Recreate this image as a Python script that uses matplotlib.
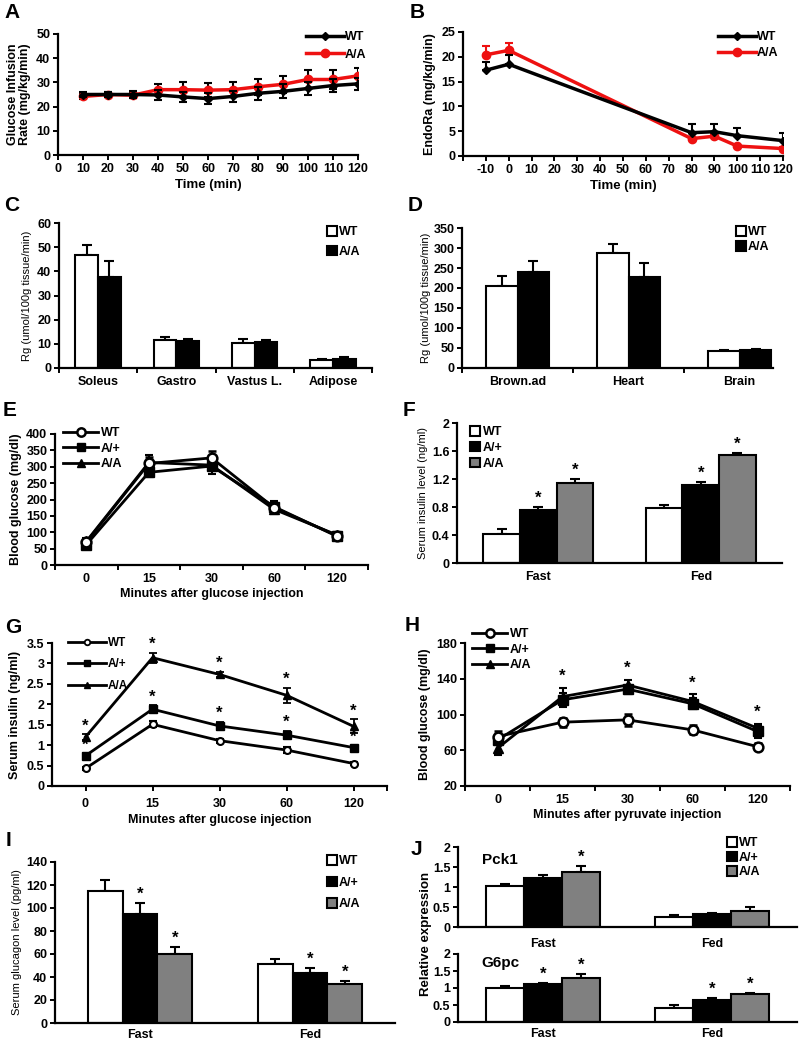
import matplotlib
matplotlib.use('Agg')
import matplotlib.pyplot as plt
import numpy as np
from matplotlib.patches import Patch
from matplotlib.lines import Line2D

plt.rcParams['font.family'] = ['Liberation Sans', 'DejaVu Sans']
plt.rcParams['font.weight'] = 'bold'
plt.rcParams['axes.labelweight'] = 'bold'
plt.rcParams['axes.linewidth'] = 1.6
plt.rcParams['xtick.major.width'] = 1.4
plt.rcParams['ytick.major.width'] = 1.4
plt.rcParams['xtick.major.size'] = 3.5
plt.rcParams['ytick.major.size'] = 3.5
plt.rcParams['xtick.labelsize'] = 9
plt.rcParams['ytick.labelsize'] = 9

# ---------------- data ----------------
A_time = [10, 20, 30, 40, 50, 60, 70, 80, 90, 100, 110, 120]
A_wt = [25.0, 25.0, 25.0, 24.8, 24.0, 23.3, 24.2, 25.5, 26.3, 27.5, 28.7, 29.4]
A_wt_err = [1.0, 1.0, 1.5, 2.1, 2.0, 2.3, 2.2, 2.8, 2.9, 2.7, 2.5, 2.5]
A_aa = [24.2, 25.0, 24.7, 27.0, 27.0, 26.8, 27.0, 28.2, 29.2, 31.2, 31.2, 32.7]
A_aa_err = [1.0, 1.0, 1.2, 2.2, 3.0, 3.0, 3.2, 3.2, 3.4, 3.9, 3.9, 3.3]

B_time = [-10, 0, 80, 90, 100, 120]
B_wt = [17.3, 18.5, 4.7, 4.9, 4.1, 3.1]
B_wt_err = [1.7, 1.9, 1.8, 1.6, 1.5, 1.5]
B_aa = [20.4, 21.3, 3.5, 4.0, 2.0, 1.5]
B_aa_err = [1.8, 1.5, 0.4, 0.4, 0.3, 0.3]

C_cats = ['Soleus', 'Gastro', 'Vastus L.', 'Adipose']
C_wt = [46.8, 11.6, 10.3, 3.3]
C_wt_err = [4.3, 1.3, 1.5, 0.5]
C_aa = [37.7, 11.2, 10.6, 3.7]
C_aa_err = [6.5, 0.9, 1.0, 0.7]

D_cats = ['Brown.ad', 'Heart', 'Brain']
D_wt = [204, 287, 42]
D_wt_err = [25, 24, 4]
D_aa = [240, 227, 44]
D_aa_err = [28, 35, 3]

E_ticks = ['0', '15', '30', '60', '120']
E_wt = [70, 310, 327, 175, 90]
E_wt_err = [10, 20, 20, 15, 12]
E_ap = [62, 283, 302, 178, 88]
E_ap_err = [10, 15, 25, 18, 12]
E_aa = [72, 313, 305, 170, 92]
E_aa_err = [10, 22, 18, 15, 10]

F_cats = ['Fast', 'Fed']
F_wt = [0.42, 0.78]
F_wt_err = [0.07, 0.05]
F_ap = [0.756, 1.115]
F_ap_err = [0.045, 0.045]
F_aa = [1.14, 1.545]
F_aa_err = [0.06, 0.03]

G_ticks = ['0', '15', '30', '60', '120']
G_wt = [0.43, 1.51, 1.11, 0.88, 0.55]
G_wt_err = [0.03, 0.07, 0.05, 0.07, 0.04]
G_ap = [0.74, 1.88, 1.47, 1.245, 0.94]
G_ap_err = [0.06, 0.1, 0.1, 0.1, 0.05]
G_aa = [1.2, 3.14, 2.73, 2.22, 1.46]
G_aa_err = [0.07, 0.12, 0.07, 0.18, 0.17]

H_ticks = ['0', '15', '30', '60', '120']
H_wt = [75.3, 91.4, 94.0, 82.8, 64.0]
H_wt_err = [6, 5, 7, 5, 4]
H_ap = [71.6, 116.4, 128.4, 112.0, 81.0]
H_ap_err = [6, 8, 5, 6, 7]
H_aa = [62.2, 120.0, 133.0, 114.6, 84.7]
H_aa_err = [7, 10, 6, 8, 5]

I_cats = ['Fast', 'Fed']
I_wt = [114.5, 51.0]
I_wt_err = [10.0, 5.0]
I_ap = [94.5, 43.5]
I_ap_err = [9.5, 4.5]
I_aa = [60.3, 33.5]
I_aa_err = [5.5, 3.0]

J_cats = ['Fast', 'Fed']
J1_wt = [1.02, 0.25]
J1_wt_err = [0.06, 0.05]
J1_ap = [1.22, 0.315]
J1_ap_err = [0.08, 0.03]
J1_aa = [1.375, 0.39]
J1_aa_err = [0.14, 0.11]
J2_wt = [1.0, 0.42]
J2_wt_err = [0.05, 0.07]
J2_ap = [1.13, 0.66]
J2_ap_err = [0.03, 0.04]
J2_aa = [1.29, 0.83]
J2_aa_err = [0.13, 0.03]

# ---------------- helpers ----------------
W, H = 800, 1042
fig = plt.figure(figsize=(W / 100, H / 100), dpi=100)


def add_ax(l, t, r, b):
    ax = fig.add_axes([l / W, 1 - b / H, (r - l) / W, (b - t) / H])
    ax.spines['top'].set_visible(False)
    ax.spines['right'].set_visible(False)
    ax.tick_params(direction='out', pad=2)
    return ax


def fig_legend(ax, handles, labels, px, py, fs=9, **kw):
    leg = ax.legend(handles, labels, loc='upper left',
                    bbox_to_anchor=(px / W, 1 - py / H),
                    bbox_transform=fig.transFigure, frameon=False,
                    borderaxespad=0, borderpad=0,
                    prop={'weight': 'bold', 'size': fs}, **kw)
    return leg


def panel_label(txt, px, py):
    fig.text(px / W, 1 - py / H, txt, fontsize=15, fontweight='bold',
             ha='left', va='top')


def bar_group(ax, n_cat, series, errs, colors, width):
    x = np.arange(n_cat)
    k = len(series)
    tops = []
    for i, (vals, er, c) in enumerate(zip(series, errs, colors)):
        pos = x + (i - (k - 1) / 2) * width
        ax.bar(pos, vals, width, color=c, edgecolor='black', linewidth=1.5, zorder=2)
        ax.errorbar(pos, vals, yerr=[np.zeros(len(vals)), er], fmt='none',
                    ecolor='black', elinewidth=1.5, capsize=3.5, capthick=1.5, zorder=1)
        tops.append((pos, np.array(vals) + np.array(er)))
    return tops


def cat_axis(ax, cats, xlim, boundaries=True, fs=9):
    n = len(cats)
    ax.set_xlim(*xlim)
    ax.set_xticks(np.arange(n))
    ax.set_xticklabels(cats, fontsize=fs, fontweight='bold')
    ax.tick_params(axis='x', length=0, pad=6)
    if boundaries:
        for b in np.arange(n + 1) - 0.5:
            if xlim[0] - 0.01 <= b <= xlim[1] + 0.01:
                ax.plot([b, b], [0, -0.03], transform=ax.get_xaxis_transform(),
                        color='black', lw=1.4, clip_on=False)


def stars(ax, xs, ys, fs=12):
    for x, y in zip(xs, ys):
        ax.annotate('*', (x, y), xytext=(0, 0), textcoords='offset points',
                    ha='center', va='bottom', fontsize=fs, fontweight='bold')


# ---------------- A ----------------
ax = add_ax(58, 34, 358, 155)
ax.errorbar(A_time, A_wt, yerr=A_wt_err, color='black', lw=2.5, marker='D', ms=4,
            capsize=3, elinewidth=1.5, capthick=1.5, zorder=3)
ax.errorbar(A_time, A_aa, yerr=A_aa_err, color='#EE1111', lw=2.5, marker='o', ms=6,
            capsize=3, elinewidth=1.5, capthick=1.5, ecolor='black', zorder=2)
ax.set_xlim(0, 120)
ax.set_ylim(0, 50)
ax.set_xticks(range(0, 121, 10))
ax.set_yticks(range(0, 51, 10))
ax.set_xlabel('Time (min)', fontsize=9.5, labelpad=3)
ax.set_ylabel('Glucose Infusion\nRate (mg/kg/min)', fontsize=9, labelpad=4, linespacing=1.0)
fig_legend(ax, [Line2D([], [], color='black', lw=2.5, marker='D', ms=4),
                Line2D([], [], color='#EE1111', lw=2.5, marker='o', ms=6)],
           ['WT', 'A/A'], 306, 31, handlelength=3.0, handletextpad=0.1, labelspacing=0.45)
panel_label('A', 4, 3)

# ---------------- B ----------------
ax = add_ax(463, 32, 783, 156)
ax.errorbar(B_time, B_wt, yerr=[np.zeros(len(B_wt)), B_wt_err], color='black', lw=2.5,
            marker='D', ms=4, capsize=3, elinewidth=1.5, capthick=1.5, zorder=3)
ax.errorbar(B_time, B_aa, yerr=[np.zeros(len(B_aa)), B_aa_err], color='#EE1111', lw=2.5,
            marker='o', ms=6, capsize=3, elinewidth=1.5, capthick=1.5, ecolor='#EE1111', zorder=2)
ax.set_xlim(-20, 120)
ax.set_ylim(0, 25)
ax.set_xticks(range(-20, 121, 10))
ax.set_xticklabels([''] + [str(v) for v in range(-10, 121, 10)])
ax.set_yticks(range(0, 26, 5))
ax.set_xlabel('Time (min)', fontsize=9.5, labelpad=3)
ax.set_ylabel('EndoRa (mg/kg/min)', fontsize=9, labelpad=4)
fig_legend(ax, [Line2D([], [], color='black', lw=2.5, marker='D', ms=4),
                Line2D([], [], color='#EE1111', lw=2.5, marker='o', ms=6)],
           ['WT', 'A/A'], 718, 31, handlelength=3.0, handletextpad=0.1, labelspacing=0.35)
panel_label('B', 410, 3)

# ---------------- C ----------------
ax = add_ax(59, 223, 372, 368)
bar_group(ax, len(C_cats), [C_wt, C_aa], [C_wt_err, C_aa_err], ['white', 'black'], 0.29)
cat_axis(ax, C_cats, (-0.5, 3.5))
ax.set_ylim(0, 60)
ax.set_yticks(range(0, 61, 10))
ax.set_ylabel('Rg (umol/100g tissue/min)', fontsize=8, fontweight='normal', labelpad=4)
fig_legend(ax, [Patch(facecolor='white', edgecolor='black', lw=1.5),
                Patch(facecolor='black', edgecolor='black', lw=1.5)],
           ['WT', 'A/A'], 327, 226, handlelength=0.8, handleheight=0.8,
           handletextpad=0.15, labelspacing=0.6)
panel_label('C', 4, 196)

# ---------------- D ----------------
ax = add_ax(462, 228, 773, 368)
bar_group(ax, len(D_cats), [D_wt, D_aa], [D_wt_err, D_aa_err], ['white', 'black'], 0.285)
cat_axis(ax, D_cats, (-0.5, 2.3))
ax.set_ylim(0, 350)
ax.set_yticks(range(0, 351, 50))
ax.set_ylabel('Rg (umol/100g tissue/min)', fontsize=8, fontweight='normal', labelpad=2)
fig_legend(ax, [Patch(facecolor='white', edgecolor='black', lw=1.5),
                Patch(facecolor='black', edgecolor='black', lw=1.5)],
           ['WT', 'A/A'], 736, 226, handlelength=0.8, handleheight=0.8,
           handletextpad=0.15, labelspacing=0.25)
panel_label('D', 408, 196)

# ---------------- E ----------------
ax = add_ax(55, 434, 368, 565)
xe = np.arange(len(E_ticks))
ax.errorbar(xe, E_wt, yerr=E_wt_err, color='black', lw=2, marker='o', ms=7, mfc='white',
            mec='black', mew=1.8, capsize=3, elinewidth=1.5, capthick=1.5, zorder=4)
ax.errorbar(xe, E_ap, yerr=E_ap_err, color='black', lw=2, marker='s', ms=7,
            capsize=3, elinewidth=1.5, capthick=1.5, zorder=3)
ax.errorbar(xe, E_aa, yerr=E_aa_err, color='black', lw=2, marker='^', ms=7,
            capsize=3, elinewidth=1.5, capthick=1.5, zorder=2)
cat_axis(ax, E_ticks, (-0.5, 4.5))
ax.set_ylim(0, 400)
ax.set_yticks(range(0, 401, 50))
ax.set_xlabel('Minutes after glucose injection', fontsize=9, labelpad=2)
ax.set_ylabel('Blood glucose (mg/dl)', fontsize=9, labelpad=3)
fig_legend(ax, [Line2D([], [], color='black', lw=2, marker='o', ms=6, mfc='white', mew=1.8),
                Line2D([], [], color='black', lw=2, marker='s', ms=6),
                Line2D([], [], color='black', lw=2, marker='^', ms=6)],
           ['WT', 'A/+', 'A/A'], 63, 427, handlelength=2.8, handletextpad=0.2, labelspacing=0.3)
panel_label('E', 3, 401)

# ---------------- F ----------------
ax = add_ax(457, 423, 782, 563)
tops = bar_group(ax, 2, [F_wt, F_ap, F_aa], [F_wt_err, F_ap_err, F_aa_err],
                 ['white', 'black', '#808080'], 0.225)
cat_axis(ax, F_cats, (-0.5, 1.5), boundaries=False)
ax.set_ylim(0, 2)
ax.set_yticks([0, 0.4, 0.8, 1.2, 1.6, 2])
ax.set_yticklabels(['0', '0.4', '0.8', '1.2', '1.6', '2'])
ax.set_ylabel('Serum insulin level (ng/ml)', fontsize=8, fontweight='normal', labelpad=3)
for pos, top in tops[1:]:
    stars(ax, pos, top + 0.02)
fig_legend(ax, [Patch(facecolor='white', edgecolor='black', lw=1.5),
                Patch(facecolor='black', edgecolor='black', lw=1.5),
                Patch(facecolor='#808080', edgecolor='black', lw=1.5)],
           ['WT', 'A/+', 'A/A'], 470, 426, handlelength=0.8, handleheight=0.8,
           handletextpad=0.25, labelspacing=0.3)
panel_label('F', 403, 401)

# ---------------- G ----------------
ax = add_ax(52, 643, 387, 786)
xg = np.arange(len(G_ticks))
ax.errorbar(xg, G_wt, yerr=G_wt_err, color='black', lw=2, marker='o', ms=5, mfc='white',
            mec='black', mew=1.5, capsize=3, elinewidth=1.3, capthick=1.3, zorder=4)
ax.errorbar(xg, G_ap, yerr=G_ap_err, color='black', lw=2, marker='s', ms=6,
            capsize=3, elinewidth=1.3, capthick=1.3, zorder=3)
ax.errorbar(xg, G_aa, yerr=G_aa_err, color='black', lw=2, marker='^', ms=6,
            capsize=3, elinewidth=1.3, capthick=1.3, zorder=2)
ax.set_xlim(-0.5, 4.5)
ax.set_xticks(list(xg) + [4.5])
ax.set_xticklabels(G_ticks + [''], fontsize=9, fontweight='bold')
ax.tick_params(axis='x', pad=5)
ax.set_ylim(0, 3.5)
ax.set_yticks([0, 0.5, 1, 1.5, 2, 2.5, 3, 3.5])
ax.set_yticklabels(['0', '0.5', '1', '1.5', '2', '2.5', '3', '3.5'])
ax.set_xlabel('Minutes after glucose injection', fontsize=9, labelpad=3)
ax.set_ylabel('Serum insulin (ng/ml)', fontsize=9, labelpad=4)
stars(ax, xg, np.array(G_ap) + np.array(G_ap_err) + 0.02)
stars(ax, xg, np.array(G_aa) + np.array(G_aa_err) + 0.02)
fig_legend(ax, [Line2D([], [], color='black', lw=2, marker='o', ms=4, mfc='white', mew=1.3),
                Line2D([], [], color='black', lw=2, marker='s', ms=5),
                Line2D([], [], color='black', lw=2, marker='^', ms=5)],
           ['WT', 'A/+', 'A/A'], 68, 637, handlelength=3.2, handletextpad=0.2, labelspacing=0.8,
           fs=8.5)
panel_label('G', 5, 618)

# ---------------- H ----------------
ax = add_ax(465, 643, 790, 786)
xh = np.arange(len(H_ticks))
ax.errorbar(xh, H_wt, yerr=H_wt_err, color='black', lw=2, marker='o', ms=7, mfc='white',
            mec='black', mew=1.8, capsize=3, elinewidth=1.5, capthick=1.5, zorder=4)
ax.errorbar(xh, H_ap, yerr=H_ap_err, color='black', lw=2, marker='s', ms=7,
            capsize=3, elinewidth=1.5, capthick=1.5, zorder=3)
ax.errorbar(xh, H_aa, yerr=H_aa_err, color='black', lw=2, marker='^', ms=7,
            capsize=3, elinewidth=1.5, capthick=1.5, zorder=2)
cat_axis(ax, H_ticks, (-0.5, 4.5))
ax.set_ylim(20, 180)
ax.set_yticks([20, 60, 100, 140, 180])
ax.set_xlabel('Minutes after pyruvate injection', fontsize=9, labelpad=2)
ax.set_ylabel('Blood glucose (mg/dl)', fontsize=9, labelpad=4)
h_top = np.maximum(np.array(H_aa) + np.array(H_aa_err), np.array(H_ap) + np.array(H_ap_err))
stars(ax, xh[1:], h_top[1:] + 4)
fig_legend(ax, [Line2D([], [], color='black', lw=2, marker='o', ms=6, mfc='white', mew=1.8),
                Line2D([], [], color='black', lw=2, marker='s', ms=6),
                Line2D([], [], color='black', lw=2, marker='^', ms=6)],
           ['WT', 'A/+', 'A/A'], 472, 628, handlelength=2.8, handletextpad=0.2, labelspacing=0.3)
panel_label('H', 405, 616)

# ---------------- I ----------------
ax = add_ax(55, 862, 395, 1023)
tops = bar_group(ax, 2, [I_wt, I_ap, I_aa], [I_wt_err, I_ap_err, I_aa_err],
                 ['white', 'black', '#808080'], 0.205)
cat_axis(ax, I_cats, (-0.5, 1.5), boundaries=False)
ax.tick_params(axis='x', pad=4)
ax.set_ylim(0, 140)
ax.set_yticks(range(0, 141, 20))
ax.set_ylabel('Serum glucagon level (pg/ml)', fontsize=8, fontweight='normal', labelpad=3)
for pos, top in tops[1:]:
    stars(ax, pos, top + 1)
fig_legend(ax, [Patch(facecolor='white', edgecolor='black', lw=1.5),
                Patch(facecolor='black', edgecolor='black', lw=1.5),
                Patch(facecolor='#808080', edgecolor='black', lw=1.5)],
           ['WT', 'A/+', 'A/A'], 327, 855, handlelength=0.8, handleheight=0.8,
           handletextpad=0.15, labelspacing=0.75)
panel_label('I', 6, 831)

# ---------------- J ----------------
ax1 = add_ax(458, 847, 797, 927)
tops = bar_group(ax1, 2, [J1_wt, J1_ap, J1_aa], [J1_wt_err, J1_ap_err, J1_aa_err],
                 ['white', 'black', '#808080'], 0.224)
cat_axis(ax1, J_cats, (-0.5, 1.5), boundaries=False)
ax1.set_ylim(0, 2)
ax1.set_yticks([0, 0.5, 1, 1.5, 2])
ax1.set_yticklabels(['0', '0.5', '1', '1.5', '2'])
ax1.tick_params(axis='x', pad=8)
stars(ax1, [tops[2][0][0]], [tops[2][1][0] + 0.03])
ax1.text(0.07, 0.93, 'Pck1', transform=ax1.transAxes, fontsize=11, fontweight='bold',
         ha='left', va='top')
fig_legend(ax1, [Patch(facecolor='white', edgecolor='black', lw=1.5),
                 Patch(facecolor='black', edgecolor='black', lw=1.5),
                 Patch(facecolor='#808080', edgecolor='black', lw=1.5)],
           ['WT', 'A/+', 'A/A'], 727, 837, handlelength=0.8, handleheight=0.8,
           handletextpad=0.15, labelspacing=0.2)

ax2 = add_ax(458, 954, 797, 1022)
tops = bar_group(ax2, 2, [J2_wt, J2_ap, J2_aa], [J2_wt_err, J2_ap_err, J2_aa_err],
                 ['white', 'black', '#808080'], 0.224)
cat_axis(ax2, J_cats, (-0.5, 1.5), boundaries=False)
ax2.set_ylim(0, 2)
ax2.set_yticks([0, 0.5, 1, 1.5, 2])
ax2.set_yticklabels(['0', '0.5', '1', '1.5', '2'])
ax2.tick_params(axis='x', pad=4)
for pos, top in tops[1:]:
    stars(ax2, pos, top + 0.03)
ax2.text(0.07, 0.97, 'G6pc', transform=ax2.transAxes, fontsize=11, fontweight='bold',
         ha='left', va='top')
fig.text(426 / W, 1 - 934 / H, 'Relative expression', rotation=90, fontsize=9.5,
         fontweight='bold', ha='center', va='center')
panel_label('J', 411, 840)

fig.savefig('out.png', dpi=100)
